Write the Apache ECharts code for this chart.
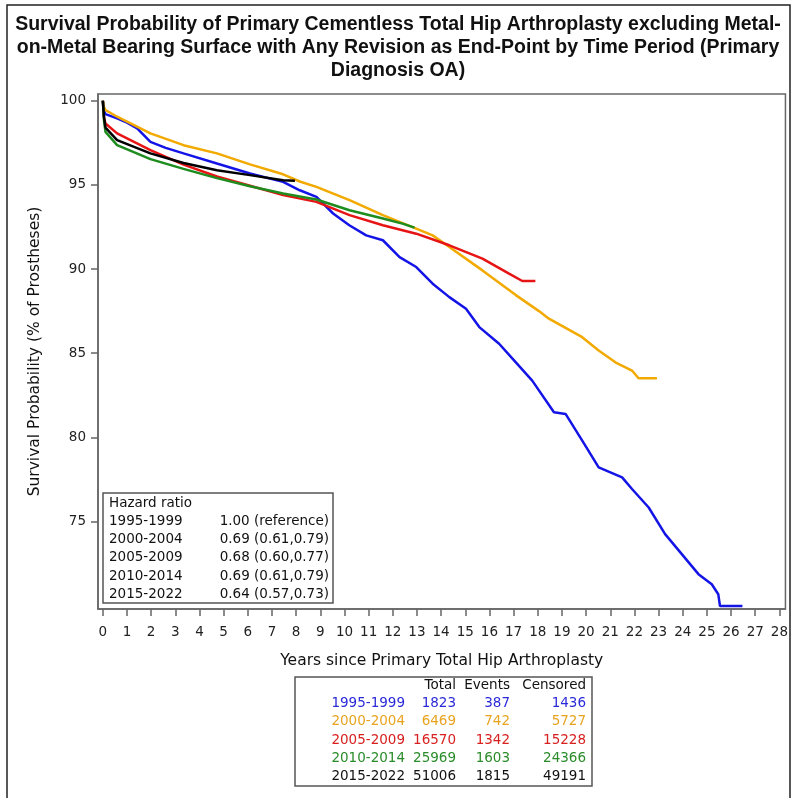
<!DOCTYPE html>
<html>
<head>
<meta charset="utf-8">
<script src="https://cdn.jsdelivr.net/npm/echarts@6/dist/echarts.min.js"></script>
<style>
  html, body { margin: 0; padding: 0; background: #fff; }
  #chart { width: 791px; height: 798px; }
</style>
</head>
<body>
<div id="chart"></div>
<script>
// 时间段
const periods = ['1995-1999', '2000-2004', '2005-2009', '2010-2014', '2015-2022'];
const periodColors = ['#1414e6', '#f2a900', '#e61414', '#1e8c1e', '#000000'];
const tableColors = ['#2a2ad8', '#e8a420', '#d82020', '#2a8c2a', '#111111'];

// 风险比
const hazardTitle = 'Hazard ratio';
const hazardRatios = ['1.00 (reference)', '0.69 (0.61,0.79)', '0.68 (0.60,0.77)', '0.69 (0.61,0.79)', '0.64 (0.57,0.73)'];

// 表格数据
const tableHeaders = ['Total', 'Events', 'Censored'];
const totals = [1823, 6469, 16570, 25969, 51006];
const events = [387, 742, 1342, 1603, 1815];
const censored = [1436, 5727, 15228, 24366, 49191];

// 坐标轴刻度
const xTicks = [0, 1, 2, 3, 4, 5, 6, 7, 8, 9, 10, 11, 12, 13, 14, 15, 16, 17, 18, 19, 20, 21, 22, 23, 24, 25, 26, 27, 28];
const yTicks = [75, 80, 85, 90, 95, 100];

// 生存曲线 [年, 生存率%]
const surv1995 = [[0, 100], [0.05, 99.4], [0.11, 99.2], [0.59, 98.95], [1.0, 98.7], [1.42, 98.36], [1.97, 97.56],
  [2.6, 97.2], [3.34, 96.87], [4.72, 96.27], [6.09, 95.68], [7.46, 95.18], [8.15, 94.68], [8.84, 94.29],
  [9.53, 93.3], [10.2, 92.6], [10.9, 92.0], [11.59, 91.71], [12.28, 90.71], [12.97, 90.12], [13.65, 89.13],
  [14.34, 88.33], [15.03, 87.64], [15.58, 86.55], [16.4, 85.56], [17.0, 84.6], [17.77, 83.37], [18.67, 81.49],
  [19.15, 81.39], [19.84, 79.8], [20.52, 78.21], [21.49, 77.62], [21.9, 76.93], [22.59, 75.83], [23.27, 74.25],
  [23.96, 73.06], [24.65, 71.87], [25.2, 71.27], [25.47, 70.68], [25.54, 69.98], [26.47, 69.98]];
const surv2000 = [[0, 100], [0.05, 99.6], [0.11, 99.45], [0.59, 99.05], [1.97, 98.06], [3.34, 97.36], [4.72, 96.87],
  [6.09, 96.22], [7.46, 95.63], [8.15, 95.2], [8.84, 94.88], [10.21, 94.09], [11.59, 93.2], [12.97, 92.4],
  [13.65, 92.0], [14.34, 91.31], [15.71, 89.92], [17.09, 88.45], [18.05, 87.5], [18.46, 87.05], [19.84, 85.95],
  [20.52, 85.16], [21.21, 84.46], [21.9, 83.97], [22.17, 83.51], [22.93, 83.51]];
const surv2005 = [[0, 100], [0.05, 99.0], [0.11, 98.65], [0.59, 98.06], [1.97, 97.07], [3.34, 96.2], [4.72, 95.5],
  [6.09, 94.95], [7.46, 94.39], [8.84, 93.99], [10.21, 93.2], [11.59, 92.6], [12.97, 92.1], [14.34, 91.41],
  [15.71, 90.62], [16.81, 89.73], [17.36, 89.29], [17.9, 89.29]];
const surv2010 = [[0, 100], [0.05, 98.8], [0.11, 98.15], [0.59, 97.36], [1.97, 96.53], [3.34, 95.95], [4.72, 95.4],
  [6.09, 94.92], [7.46, 94.49], [8.84, 94.13], [10.21, 93.49], [11.59, 93.0], [12.4, 92.7], [12.9, 92.46]];
const surv2015 = [[0, 100], [0.05, 99.0], [0.11, 98.4], [0.59, 97.66], [1.97, 96.87], [3.34, 96.3], [4.72, 95.87],
  [6.09, 95.58], [7.46, 95.28], [7.95, 95.24]];
const curves = [surv1995, surv2000, surv2005, surv2010, surv2015];

const chart = echarts.init(document.getElementById('chart'));
const font = 'DejaVu Sans, Verdana, sans-serif';
const boxFont = '13.5px ' + font;

// 风险比框
const hazardItems = [
  { type: 'rect', shape: { x: 103, y: 493, width: 230, height: 110 },
    style: { fill: '#fff', stroke: '#555', lineWidth: 1.5 } },
  { type: 'text', x: 109, y: 503, style: { text: hazardTitle, fill: '#111', font: boxFont, textVerticalAlign: 'middle' } }
];
periods.forEach((p, i) => {
  const y = 521.5 + i * 18.2;
  hazardItems.push({ type: 'text', x: 109, y: y, style: { text: p, fill: '#111', font: boxFont, textVerticalAlign: 'middle' } });
  hazardItems.push({ type: 'text', x: 329, y: y, style: { text: hazardRatios[i], fill: '#111', font: boxFont, textAlign: 'right', textVerticalAlign: 'middle' } });
});

// 表格
const colRight = [405, 456, 510, 586];
const tableItems = [
  { type: 'rect', shape: { x: 295, y: 677, width: 297, height: 109 },
    style: { fill: '#fff', stroke: '#555', lineWidth: 1.5 } }
];
tableHeaders.forEach((h, j) => {
  tableItems.push({ type: 'text', x: colRight[j + 1], y: 685.5, style: { text: h, fill: '#111', font: boxFont, textAlign: 'right', textVerticalAlign: 'middle' } });
});
periods.forEach((p, i) => {
  const y = 703.5 + i * 18.3;
  const vals = [p, totals[i], events[i], censored[i]];
  vals.forEach((v, j) => {
    tableItems.push({ type: 'text', x: colRight[j], y: y, style: { text: String(v), fill: tableColors[i], font: boxFont, textAlign: 'right', textVerticalAlign: 'middle' } });
  });
});

const option = {
  backgroundColor: '#fff',
  animation: false,
  title: {
    text: 'Survival Probability of Primary Cementless Total Hip Arthroplasty excluding Metal-\non-Metal Bearing Surface with Any Revision as End-Point by Time Period (Primary\nDiagnosis OA)',
    left: 393,
    top: 8,
    textAlign: 'center',
    textStyle: {
      fontFamily: 'Liberation Sans, Arial, sans-serif',
      fontWeight: 'bold',
      fontSize: 19.5,
      lineHeight: 23,
      color: '#111'
    }
  },
  grid: {
    left: 98,
    right: 4,
    top: 94,
    bottom: 189,
    show: true,
    borderColor: '#666',
    borderWidth: 1.5,
    containLabel: false
  },
  xAxis: {
    type: 'value',
    min: -0.2,
    max: 28.25,
    name: 'Years since Primary Total Hip Arthroplasty',
    nameLocation: 'middle',
    nameGap: 44,
    nameTextStyle: { fontFamily: font, fontSize: 15.5, color: '#111' },
    axisLine: { show: true, onZero: false, lineStyle: { color: '#666', width: 1.5 } },
    axisTick: { show: true, length: 7, customValues: xTicks, lineStyle: { color: '#666', width: 1.5 } },
    axisLabel: { customValues: xTicks, margin: 16, fontFamily: font, fontSize: 13.5, color: '#222' },
    splitLine: { show: false }
  },
  yAxis: {
    type: 'value',
    min: 69.8,
    max: 100.4,
    name: 'Survival Probability (% of Prostheses)',
    nameLocation: 'middle',
    nameGap: 55,
    nameTextStyle: { fontFamily: font, fontSize: 15.5, color: '#111' },
    axisLine: { show: true, onZero: false, lineStyle: { color: '#666', width: 1.5 } },
    axisTick: { show: true, length: 7, customValues: yTicks, lineStyle: { color: '#666', width: 1.5 } },
    axisLabel: { customValues: yTicks, margin: 12, fontFamily: font, fontSize: 13.5, color: '#222' },
    splitLine: { show: false }
  },
  graphic: [
    { type: 'rect', shape: { x: 7, y: 5, width: 783, height: 800 }, style: { fill: 'none', stroke: '#222', lineWidth: 1.5 }, silent: true },
    { type: 'group', children: hazardItems },
    { type: 'group', children: tableItems }
  ],
  series: curves.map((c, i) => ({
    name: periods[i],
    type: 'line',
    data: c,
    showSymbol: false,
    symbol: 'none',
    lineStyle: { color: periodColors[i], width: 2.5 },
    z: 2 + i
  }))
};

chart.setOption(option);
</script>
</body>
</html>
